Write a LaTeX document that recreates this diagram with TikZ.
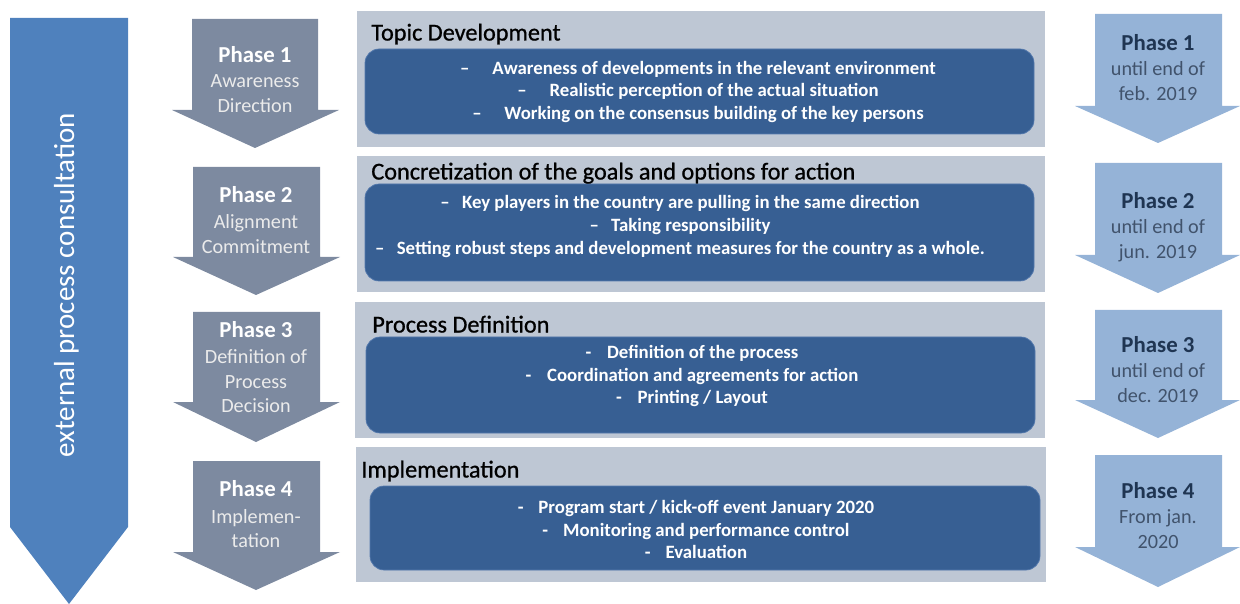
\documentclass[tikz,border=0pt]{standalone}
\usepackage{fontspec}
\setmainfont{Carlito}
\newfontfamily\headfont{Carlito}[FakeBold=0.8]
\definecolor{bigblue}{HTML}{4F81BD}
\definecolor{phasegrey}{HTML}{7D8AA0}
\definecolor{dateblue}{HTML}{95B3D7}
\definecolor{panelgrey}{HTML}{BEC7D4}
\definecolor{boxblue}{HTML}{375F93}
\definecolor{boxedge}{HTML}{5479AD}
\definecolor{datetext}{HTML}{1F3552}
\begin{document}
\begin{tikzpicture}[y=-0.02cm,x=0.02cm,
    txt/.style={inner sep=0pt,text height=1.6ex,text depth=0.4ex},
    item/.style={txt,text=white,font=\bfseries\fontsize{10.7}{12}\selectfont},
    title/.style={inner sep=0pt,anchor=base west,font=\headfont\fontsize{13.8}{16}\selectfont},
    phasehead/.style={txt,font=\bfseries\fontsize{13}{15}\selectfont},
    phasesub/.style={txt,font=\fontsize{11.5}{14}\selectfont},
    panel/.style={fill=panelgrey},
    inbox/.style={fill=boxblue,draw=boxedge,rounded corners=8pt}]
    \useasboundingbox (0,0) rectangle (1240,604);

    % big arrow on the left
    \fill[bigblue] (10,18) -- (128,18) -- (128,527) -- (69,604) -- (10,527) -- cycle;
    \node[txt,rotate=90,text=white,font=\fontsize{16.5}{18}\selectfont] (ext) at (69,285) {external process consultation};

    % grey phase arrows
    \fill[phasegrey] (192,19) -- (318,19) -- (318,110) -- (339,110) -- (255,148) -- (172,110) -- (192,110) -- cycle;
    \fill[phasegrey] (193,167) -- (320,167) -- (320,257) -- (340,257) -- (256,295) -- (173,257) -- (193,257) -- cycle;
    \fill[phasegrey] (193,312) -- (320,312) -- (320,402) -- (340,402) -- (256,442) -- (173,402) -- (193,402) -- cycle;
    \fill[phasegrey] (193,461) -- (320,461) -- (320,552) -- (340,552) -- (256,590) -- (173,552) -- (193,552) -- cycle;

    \node[phasehead,text=white] (ph1) at (255,57) {Phase 1};
    \node[phasesub,text=white!92!black] (ph1a) at (255,82) {Awareness};
    \node[phasesub,text=white!92!black] (ph1b) at (255,107) {Direction};
    \node[phasehead,text=white] (ph2) at (256,197) {Phase 2};
    \node[phasesub,text=white!92!black] (ph2a) at (256,223) {Alignment};
    \node[phasesub,text=white!92!black] (ph2b) at (256,248) {Commitment};
    \node[phasehead,text=white] (ph3) at (256,332) {Phase 3};
    \node[phasesub,text=white!92!black] (ph3a) at (256,358) {Definition of};
    \node[phasesub,text=white!92!black] (ph3b) at (256,383) {Process};
    \node[phasesub,text=white!92!black] (ph3c) at (256,407) {Decision};
    \node[phasehead,text=white] (ph4) at (256,491) {Phase 4};
    \node[phasesub,text=white!92!black] (ph4a) at (256,518) {Implemen-};
    \node[phasesub,text=white!92!black] (ph4b) at (256,542) {tation};

    % panels in the middle
    \fill[panel] (357,11) rectangle (1045,147);
    \draw[inbox] (365,49) rectangle (1034,134);
    \node[title] (tt1) at (371,40.5) {Topic Development};
    \node[item] (it1a) at (698,69) {–\hspace{13pt}Awareness of developments in the relevant environment};
    \node[item] (it1b) at (698,91) {–\hspace{13pt}Realistic perception of the actual situation};
    \node[item] (it1c) at (698,114) {–\hspace{13pt}Working on the consensus building of the key persons};

    \fill[panel] (357,156) rectangle (1045,292);
    \draw[inbox] (365,184) rectangle (1034,281);
    \node[title] (tt2) at (371,179.5) {Concretization of the goals and options for action};
    \node[item] (it2a) at (680,203) {–\hspace{7pt}Key players in the country are pulling in the same direction};
    \node[item] (it2b) at (680,226) {–\hspace{7pt}Taking responsibility};
    \node[item] (it2c) at (680,249) {–\hspace{7pt}Setting robust steps and development measures for the country as a whole.};

    \fill[panel] (355,302) rectangle (1045,438);
    \draw[inbox] (366,337) rectangle (1035,433);
    \node[title] (tt3) at (372,332.5) {Process Definition};
    \node[item] (it3a) at (692,353) {-\hspace{9pt}Definition of the process};
    \node[item] (it3b) at (692,376) {-\hspace{9pt}Coordination and agreements for action};
    \node[item] (it3c) at (692,398) {-\hspace{9pt}Printing / Layout};

    \fill[panel] (356,447) rectangle (1046,582);
    \draw[inbox] (370,486) rectangle (1040,570);
    \node[title] (tt4) at (361,477.5) {Implementation};
    \node[item] (it4a) at (696,508) {-\hspace{8.5pt}Program start / kick-off event January 2020};
    \node[item] (it4b) at (696,531) {-\hspace{8.5pt}Monitoring and performance control};
    \node[item] (it4c) at (696,553) {-\hspace{8.5pt}Evaluation};

    % light blue date arrows
    \fill[dateblue] (1095,14) -- (1222,14) -- (1222,106) -- (1240,106) -- (1158,143) -- (1075,106) -- (1095,106) -- cycle;
    \fill[dateblue] (1095,163) -- (1222,163) -- (1222,255) -- (1240,255) -- (1158,293) -- (1075,255) -- (1095,255) -- cycle;
    \fill[dateblue] (1095,310) -- (1222,310) -- (1222,400) -- (1240,400) -- (1158,438) -- (1075,400) -- (1095,400) -- cycle;
    \fill[dateblue] (1095,455) -- (1222,455) -- (1222,547) -- (1240,547) -- (1158,587) -- (1075,547) -- (1095,547) -- cycle;

    \node[phasehead,text=datetext] (dt1) at (1158,45) {Phase 1};
    \node[phasesub,text=datetext!85] (dt1a) at (1158,70) {until end of};
    \node[phasesub,text=datetext!85] (dt1b) at (1158,95) {feb. 2019};
    \node[phasehead,text=datetext] (dt2) at (1158,203) {Phase 2};
    \node[phasesub,text=datetext!85] (dt2a) at (1158,228) {until end of};
    \node[phasesub,text=datetext!85] (dt2b) at (1158,253) {jun. 2019};
    \node[phasehead,text=datetext] (dt3) at (1158,347) {Phase 3};
    \node[phasesub,text=datetext!85] (dt3a) at (1158,372) {until end of};
    \node[phasesub,text=datetext!85] (dt3b) at (1158,397) {dec. 2019};
    \node[phasehead,text=datetext] (dt4) at (1158,493) {Phase 4};
    \node[phasesub,text=datetext!85] (dt4a) at (1158,518) {From jan.};
    \node[phasesub,text=datetext!85] (dt4b) at (1158,543) {2020};
\end{tikzpicture}
\end{document}
